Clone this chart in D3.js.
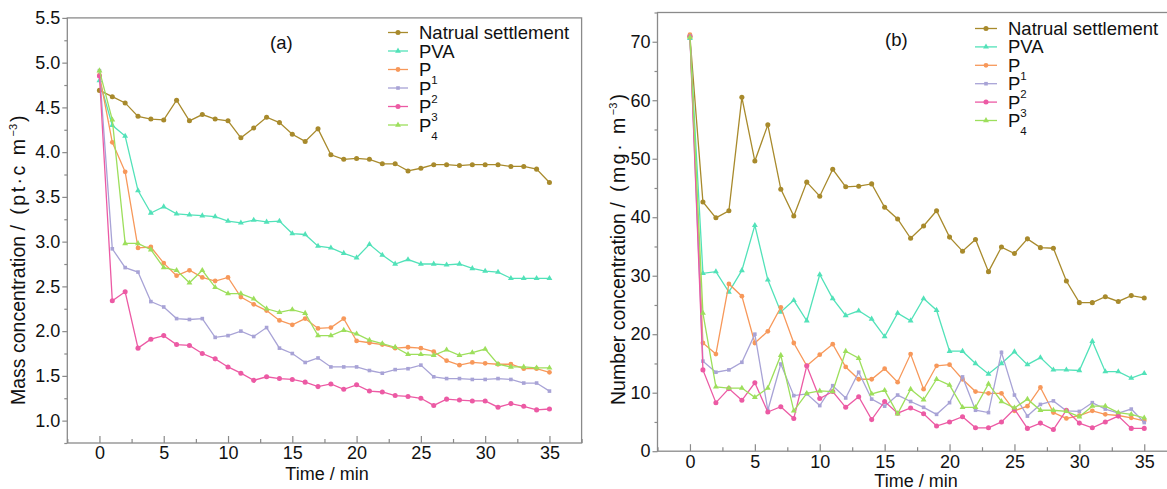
<!DOCTYPE html>
<html>
<head>
<meta charset="utf-8">
<script src="https://cdn.jsdelivr.net/npm/d3@7"></script>
<style>
body{margin:0;background:#fff;}
svg{display:block;font-family:"Liberation Sans",Arial,sans-serif;}
.tick text{fill:#111;}
</style>
</head>
<body>
<svg id="chart" width="1167" height="489"></svg>
<script>
// *********************************************
// DATA
// *********************************************
var minutes = [0,1,2,3,4,5,6,7,8,9,10,11,12,13,14,15,16,17,18,19,20,21,22,23,24,25,26,27,28,29,30,31,32,33,34,35];

// (a) mass concentration
var massNatural = [4.69,4.62,4.55,4.40,4.37,4.36,4.58,4.35,4.42,4.37,4.35,4.16,4.27,4.39,4.33,4.20,4.12,4.26,3.97,3.92,3.93,3.92,3.87,3.87,3.79,3.82,3.86,3.86,3.85,3.86,3.86,3.86,3.84,3.84,3.81,3.66];
var massPVA = [4.80,4.30,4.18,3.57,3.32,3.39,3.31,3.30,3.29,3.28,3.23,3.21,3.24,3.22,3.23,3.09,3.08,2.95,2.93,2.87,2.82,2.97,2.85,2.75,2.80,2.75,2.75,2.74,2.75,2.70,2.67,2.66,2.59,2.59,2.59,2.59];
var massP1 = [4.86,4.11,3.78,2.93,2.94,2.76,2.62,2.68,2.60,2.56,2.60,2.38,2.30,2.23,2.12,2.07,2.14,2.03,2.04,2.14,1.89,1.87,1.85,1.81,1.82,1.81,1.77,1.67,1.62,1.65,1.64,1.63,1.63,1.58,1.58,1.54];
var massP2 = [4.91,2.92,2.71,2.66,2.33,2.27,2.14,2.13,2.14,1.93,1.95,2.00,1.94,2.04,1.81,1.75,1.65,1.70,1.60,1.60,1.60,1.56,1.53,1.57,1.58,1.62,1.49,1.47,1.47,1.46,1.46,1.47,1.46,1.42,1.42,1.33];
var massP3 = [4.85,2.34,2.44,1.81,1.91,1.95,1.85,1.84,1.75,1.69,1.60,1.53,1.45,1.49,1.47,1.46,1.43,1.38,1.41,1.35,1.40,1.33,1.32,1.28,1.27,1.25,1.17,1.24,1.23,1.22,1.22,1.15,1.19,1.16,1.12,1.13];
var massP4 = [4.91,4.36,2.98,2.98,2.91,2.71,2.68,2.54,2.68,2.49,2.42,2.42,2.36,2.25,2.21,2.24,2.20,1.95,1.95,2.01,1.97,1.90,1.86,1.82,1.74,1.74,1.73,1.79,1.73,1.76,1.80,1.63,1.60,1.60,1.59,1.59];

// (b) number concentration
var numNatural = [70.9,42.6,39.9,41.1,60.5,49.6,55.8,44.8,40.2,46.0,43.6,48.2,45.2,45.3,45.7,41.7,39.7,36.4,38.5,41.1,36.6,34.2,36.2,30.7,34.9,33.8,36.3,34.8,34.7,29.1,25.4,25.4,26.4,25.6,26.6,26.2];
var numPVA = [70.6,30.4,30.7,27.2,30.9,38.6,29.3,23.8,25.8,22.3,30.2,26.1,23.2,24.0,22.6,19.6,23.6,22.3,26.1,24.1,17.1,17.1,15.0,13.2,15.0,17.0,14.8,16.0,13.9,13.9,13.8,18.8,13.6,13.6,12.5,13.3];
var numP1 = [71.2,18.5,16.6,28.6,26.5,18.5,20.5,24.6,18.5,14.6,16.5,18.3,14.4,12.3,12.3,14.1,11.8,16.6,10.6,14.6,14.8,12.3,10.2,9.9,9.9,6.9,7.7,10.9,6.6,5.6,6.1,6.9,6.3,6.1,5.7,5.2];
var numP2 = [71.0,15.4,13.5,13.9,15.2,20.0,7.0,14.9,9.5,9.8,7.8,11.2,9.1,13.5,8.9,7.7,9.6,8.5,7.5,6.3,8.3,12.7,7.0,6.6,16.9,9.6,6.0,8.0,8.6,6.9,6.8,8.3,7.2,6.5,7.2,4.9];
var numP3 = [70.9,13.9,8.3,10.7,8.7,11.7,6.7,7.6,5.6,14.6,9.0,10.2,7.5,9.3,5.4,8.5,6.5,7.4,6.4,4.3,5.0,5.9,4.0,4.0,5.0,7.2,3.9,4.8,3.7,7.0,4.8,4.0,5.0,6.0,3.9,3.9];
var numP4 = [70.8,23.6,11.0,10.8,10.8,9.2,10.8,16.4,6.9,9.9,10.3,10.2,17.1,15.9,9.8,10.4,6.4,10.6,8.8,12.3,11.3,7.5,7.5,11.5,8.5,7.4,8.9,7.0,7.0,6.8,5.9,7.7,7.7,6.6,6.3,5.7];

// legend names: base text + subscript
var seriesBase = ["Natrual settlement","PVA","P","P","P","P"];
var seriesSub = ["","","1","2","3","4"];

var xTicks = [0,5,10,15,20,25,30,35];
var xMinor = [-2.5,2.5,7.5,12.5,17.5,22.5,27.5,32.5,37.5];
var massTicks = [1.0,1.5,2.0,2.5,3.0,3.5,4.0,4.5,5.0,5.5];
var massMinor = [0.75,1.25,1.75,2.25,2.75,3.25,3.75,4.25,4.75,5.25];
var numTicks = [0,10,20,30,40,50,60,70];
var numMinor = [5,15,25,35,45,55,65,75];

// *********************************************
// STYLE
// *********************************************
var colors = ["#a88a2c","#52e2b9","#f7985a","#a8a3d6","#ec5aa4","#9ddf5c"];
var shapes = [d3.symbolCircle,d3.symbolTriangle,d3.symbolCircle,d3.symbolSquare,d3.symbolCircle,d3.symbolTriangle];
var shapeSize = [20,15,18,13,20,15];
var frameColor = "#8a8a8a";

var svg = d3.select("#chart");

function drawPanel(p) {
  var x = d3.scaleLinear().domain([-2.5,37.5]).range([p.left,p.right]);
  var y = d3.scaleLinear().domain(p.yDomain).range([p.bottom,p.top]);
  var g = svg.append("g");

  // frame
  g.append("rect")
    .attr("x",p.left).attr("y",p.top)
    .attr("width",p.right-p.left).attr("height",p.bottom-p.top)
    .attr("fill","none").attr("stroke",frameColor).attr("stroke-width",1.3);

  // x axis, ticks inward
  var xa = g.append("g").attr("transform","translate(0,"+p.bottom+")")
    .call(d3.axisBottom(x).tickValues(xTicks).tickSize(-7).tickSizeOuter(0).tickPadding(p.xPad).tickFormat(d3.format("d")));
  var xm = g.append("g").attr("transform","translate(0,"+p.bottom+")")
    .call(d3.axisBottom(x).tickValues(xMinor).tickSize(-4).tickSizeOuter(0).tickFormat(""));

  // y axis, ticks outward
  var ya = g.append("g").attr("transform","translate("+p.left+",0)")
    .call(d3.axisLeft(y).tickValues(p.yTicks).tickSize(5).tickSizeOuter(0).tickPadding(2).tickFormat(p.yFormat));
  var ym = g.append("g").attr("transform","translate("+p.left+",0)")
    .call(d3.axisLeft(y).tickValues(p.yMinor).tickSize(3).tickSizeOuter(0).tickFormat(""));

  [xa,xm,ya,ym].forEach(function(a){
    a.select(".domain").remove();
    a.selectAll("line").attr("stroke",frameColor).attr("stroke-width",1.2);
    a.selectAll("text").attr("font-size",18).attr("font-family","Liberation Sans, Arial, sans-serif");
  });

  // series
  var line = d3.line().x(function(d,i){return x(minutes[i]);}).y(function(d){return y(d);});
  p.series.forEach(function(vals,k){
    g.append("path").datum(vals)
      .attr("d",line).attr("fill","none")
      .attr("stroke",colors[k]).attr("stroke-width",1.3);
    g.selectAll(null).data(vals).enter().append("path")
      .attr("transform",function(d,i){return "translate("+x(minutes[i])+","+y(d)+")";})
      .attr("d",d3.symbol().type(shapes[k]).size(shapeSize[k]))
      .attr("fill",colors[k]);
  });

  // legend
  seriesBase.forEach(function(name,k){
    var ly = p.legY + k*p.legStep;
    g.append("line").attr("x1",p.legX).attr("x2",p.legX+p.legLen)
      .attr("y1",ly).attr("y2",ly).attr("stroke",colors[k]).attr("stroke-width",1.3);
    g.append("path").attr("transform","translate("+(p.legX+p.legLen/2)+","+ly+")")
      .attr("d",d3.symbol().type(shapes[k]).size(shapeSize[k])).attr("fill",colors[k]);
    var t = g.append("text").attr("x",p.legX+p.legLen+11).attr("y",ly+6.5)
      .attr("font-size",18.5).attr("fill","#111").text(name);
    if (seriesSub[k]) {
      t.append("tspan").attr("dy",8).attr("font-size",11.5).text(seriesSub[k]);
    }
  });

  // panel letter
  g.append("text").attr("x",p.tagX).attr("y",p.tagY).attr("font-size",18.5).attr("fill","#111").text(p.tag);

  // x title
  g.append("text").attr("x",p.xTitleX).attr("y",p.xTitleY).attr("text-anchor","middle")
    .attr("font-size",18).attr("fill","#111").text("Time / min");

  // y title (rotated)
  var yt = g.append("text").attr("transform","translate("+p.yTitleX+",405) rotate(-90)")
    .attr("font-size",19.5).attr("fill","#111");
  yt.append("tspan").text(p.yTitle[0]);
  yt.append("tspan").attr("letter-spacing",p.unitSpacing).text(p.yTitle[1]);
  yt.append("tspan").attr("font-size",11).attr("dy",-8).text("\u22123");
  yt.append("tspan").attr("dy",8).attr("dx",2).text(")");
}

drawPanel({
  left:67.3, right:581.6, top:17.9, bottom:443,
  yDomain:[0.75,5.5], yTicks:massTicks, yMinor:massMinor, yFormat:d3.format(".1f"),
  xPad:3.5,
  series:[massNatural,massPVA,massP1,massP2,massP3,massP4],
  legX:388, legLen:20, legY:32.5, legStep:18.5,
  tag:"(a)", tagX:270, tagY:49,
  xTitleX:327, xTitleY:480,
  yTitleX:25, yTitle:["Mass concentration ","/  (pt\u00b7c  m"], unitSpacing:2.5
});

drawPanel({
  left:657.5, right:1176.7, top:12.5, bottom:451.2,
  yDomain:[0,75], yTicks:numTicks, yMinor:numMinor, yFormat:d3.format("d"),
  xPad:4,
  series:[numNatural,numPVA,numP1,numP2,numP3,numP4],
  legX:975, legLen:22, legY:28.5, legStep:18.4,
  tag:"(b)", tagX:885, tagY:46,
  xTitleX:916, xTitleY:486.5,
  yTitleX:625, yTitle:["Number concentration ","/  (mg\u00b7  m"], unitSpacing:2.5
});
</script>
</body>
</html>
